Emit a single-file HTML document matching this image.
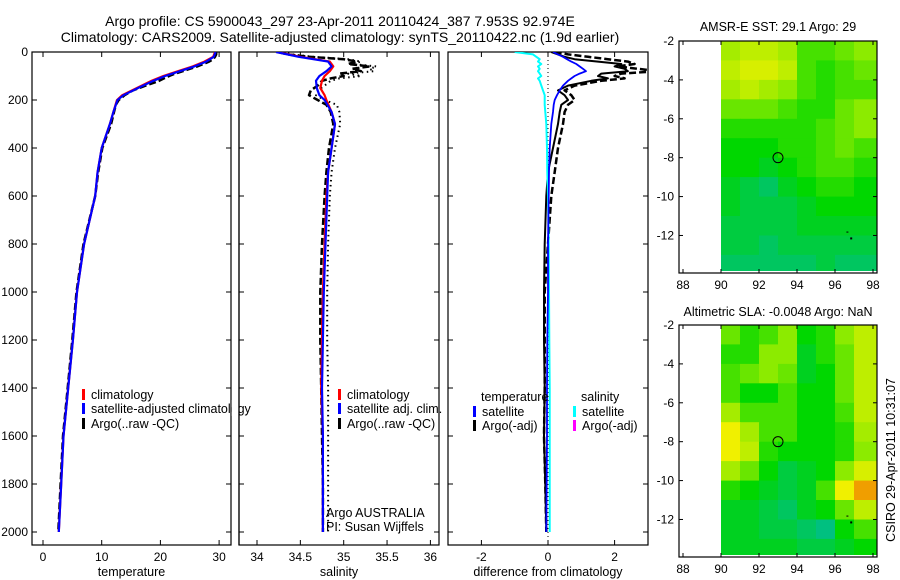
<!DOCTYPE html>
<html><head><meta charset="utf-8"><style>
html,body{margin:0;padding:0;background:#fff;}
svg{display:block;font-family:"Liberation Sans",sans-serif;}
text{fill:#000;}
</style></head><body>
<svg id="fig" width="900" height="580" viewBox="0 0 900 580">
<defs>
<clipPath id="c1"><rect x="32" y="52" width="199" height="493"/></clipPath>
<clipPath id="c2"><rect x="239" y="52" width="200" height="493"/></clipPath>
<clipPath id="c3"><rect x="448" y="52" width="200" height="493"/></clipPath>
</defs>
<text x="340" y="26" font-size="14" text-anchor="middle">Argo profile: CS 5900043_297 23-Apr-2011 20110424_387 7.953S 92.974E</text>
<text x="340" y="42" font-size="14" text-anchor="middle">Climatology: CARS2009. Satellite-adjusted climatology: synTS_20110422.nc (1.9d earlier)</text>
<text x="778" y="31" font-size="12.5" text-anchor="middle">AMSR-E SST: 29.1 Argo: 29</text>
<text x="778" y="316" font-size="12.5" text-anchor="middle">Altimetric SLA: -0.0048 Argo: NaN</text>
<text transform="translate(895,460) rotate(-90)" font-size="12.5" text-anchor="middle">CSIRO 29-Apr-2011 10:31:07</text>
<g id="layer"></g>
</svg>
<script>
// ---- data ----
const climDepth=[0,20,40,60,80,100,120,150,180,200,250,300,400,500,600,800,1000,1200,1400,1600,1800,2000];
const tempClim=[29.3,29,27.5,25.5,23,20.5,18.5,16,13.5,12.6,12,11.4,10,9.3,8.9,7,5.8,5.1,4.3,3.5,3.1,2.7];
const tempSatAdj=[29.4,29.1,27.8,25.8,23.3,20.8,18.8,16.2,13.7,12.7,12.0,11.4,10,9.3,8.9,7,5.8,5.1,4.3,3.5,3.1,2.7];
const salClim=[34.23,34.5,34.84,34.88,34.84,34.78,34.75,34.73,34.78,34.8,34.86,34.9,34.86,34.82,34.8,34.78,34.76,34.75,34.74,34.76,34.76,34.76];
const salSatAdj=[34.22,34.48,34.82,34.86,34.8,34.72,34.68,34.69,34.72,34.78,34.86,34.9,34.86,34.82,34.81,34.79,34.77,34.76,34.75,34.76,34.76,34.76];
const argoDepth=[0,10,20,30,40,50,60,70,80,90,100,110,120,140,160,180,200,220,250,300,400,500,600,800,1000,1200,1400,1600,1800,2000];
const tempArgo=[29.5,29.5,29.3,29,28.3,27.3,26.3,25,23.8,22.5,21.5,20.6,19.8,17.5,15.3,13.9,12.9,12.4,12.1,11.6,10.1,9.4,8.9,6.9,5.7,5.0,4.2,3.4,3.0,2.6];
const salArgo=[34.25,34.35,34.6,35.0,35.15,35.05,35.3,35.1,35.2,34.95,35.0,34.85,34.75,34.7,34.62,34.6,34.7,34.8,34.85,34.88,34.83,34.8,34.78,34.75,34.73,34.73,34.74,34.75,34.76,34.76];
const salArgoQC=[34.3,34.4,34.65,35.05,35.2,35.1,35.38,35.3,35.35,35.05,35.2,34.95,34.85,34.78,34.7,34.68,34.78,34.92,34.95,34.96,34.9,34.86,34.84,34.82,34.81,34.81,34.82,34.82,34.82,34.82];
const dTempSat=[0.15,0.3,0.45,0.57,0.7,0.85,0.95,1.05,1.14,0.95,0.8,0.7,0.6,0.45,0.35,0.27,0.2,0.17,0.15,0.1,0.05,0.03,0.02,0,0,-0.02,-0.03,-0.03,-0.04,-0.05];
const dTempArgo=[0.1,0.3,0.5,0.8,1.5,2.2,2.0,2.3,2.4,1.6,1.5,1.8,1.3,0.6,0.3,0.5,0.6,0.4,0.35,0.3,0.15,0,-0.05,-0.1,-0.12,-0.12,-0.1,-0.12,-0.08,-0.05];
const dTempArgoRaw=[0.2,0.6,1.2,1.8,2.4,2.6,2.1,2.7,3.3,2.2,2.0,2.3,1.6,0.8,0.5,0.7,0.8,0.6,0.5,0.45,0.3,0.2,0.1,0,-0.1,-0.1,-0.1,-0.12,-0.08,-0.05];
const dSalSat=[-1.0,-0.45,-0.35,-0.25,-0.3,-0.2,-0.3,-0.25,-0.3,-0.25,-0.2,-0.3,-0.25,-0.2,-0.15,-0.1,-0.1,-0.1,-0.08,-0.05,-0.03,-0.02,0,0.02,0.03,0.04,0.05,0.05,0.05,0.05];
const depthTicks=[0,200,400,600,800,1000,1200,1400,1600,1800,2000];
const tempTicks=[0,10,20,30];
const salTicks=[34,34.5,35,35.5,36];
const diffTicks=[-2,0,2];
const lonTicks=[88,90,92,94,96,98];
const latTicks=[-2,-4,-6,-8,-10,-12];
const mapLons=[90,91,92,93,94,95,96,97];
const mapLats=[-2,-3,-4,-5,-6,-7,-8,-9,-10,-11,-12,-13];
const sstGrid=[
[0.55,0.6,0.6,0.55,0.4,0.4,0.45,0.5],
[0.6,0.65,0.65,0.6,0.4,0.35,0.4,0.45],
[0.55,0.6,0.55,0.5,0.4,0.35,0.4,0.4],
[0.45,0.45,0.45,0.4,0.35,0.35,0.45,0.5],
[0.35,0.35,0.35,0.35,0.35,0.4,0.45,0.5],
[0.3,0.3,0.3,0.35,0.35,0.4,0.45,0.4],
[0.3,0.3,0.25,0.3,0.35,0.4,0.4,0.35],
[0.25,0.2,0.15,0.25,0.3,0.35,0.35,0.3],
[0.25,0.2,0.2,0.2,0.25,0.3,0.3,0.3],
[0.2,0.2,0.2,0.2,0.25,0.25,0.25,0.25],
[0.2,0.2,0.15,0.2,0.2,0.2,0.2,0.2],
[0.15,0.15,0.15,0.15,0.15,0.2,0.15,0.15]];
const slaGrid=[
[0.45,0.35,0.4,0.5,0.3,0.35,0.5,0.6],
[0.35,0.35,0.5,0.5,0.25,0.35,0.45,0.6],
[0.4,0.45,0.5,0.45,0.25,0.3,0.45,0.6],
[0.4,0.3,0.3,0.4,0.3,0.3,0.45,0.6],
[0.55,0.4,0.4,0.4,0.3,0.3,0.4,0.6],
[0.7,0.55,0.4,0.4,0.3,0.3,0.35,0.55],
[0.7,0.6,0.35,0.3,0.3,0.3,0.35,0.5],
[0.55,0.45,0.3,0.2,0.25,0.3,0.5,0.65],
[0.35,0.3,0.25,0.2,0.25,0.4,0.7,0.85],
[0.25,0.25,0.2,0.15,0.25,0.3,0.45,0.6],
[0.25,0.25,0.2,0.2,0.15,0.1,0.3,0.4],
[0.25,0.25,0.25,0.25,0.2,0.2,0.25,0.3]];
const argoLon=93, argoLat=-8;

// ---- helpers ----
const NS='http://www.w3.org/2000/svg';
const layer=document.getElementById('layer');
function mk(tag,attrs,parent){const e=document.createElementNS(NS,tag);for(const k in attrs)e.setAttribute(k,attrs[k]);(parent||layer).appendChild(e);return e;}
const yD=d=>52+0.24*d;
const xT=t=>43+5.87*t;
const xS=s=>257+86.7*(s-34);
const xDf=v=>548+33.3*v;

function panelFrame(x0,x1,name,ticks,xf,label,showDepth){
  const r=mk('rect',{x:x0,y:52,width:x1-x0,height:493,fill:'none',stroke:'#000','stroke-width':1.2});
  
  
  depthTicks.forEach(d=>{
    mk('line',{x1:x0,x2:x0+5,y1:yD(d),y2:yD(d),stroke:'#000'});
    mk('line',{x1:x1-5,x2:x1,y1:yD(d),y2:yD(d),stroke:'#000'});
    if(showDepth){const t=mk('text',{x:x0-4,y:yD(d)+4,'font-size':12,'text-anchor':'end'});t.textContent=d;
      
      }
  });
  ticks.forEach(v=>{
    const x=xf(v);
    mk('line',{x1:x,x2:x,y1:545,y2:540,stroke:'#000'});
    mk('line',{x1:x,x2:x,y1:52,y2:57,stroke:'#000'});
    const t=mk('text',{x:x,y:561,'font-size':12,'text-anchor':'middle'});t.textContent=v;
    
    
  });
  const l=mk('text',{x:(x0+x1)/2,y:576,'font-size':12.5,'text-anchor':'middle'});l.textContent=label;
  
  
}
function line(vals,depths,xf,clip,color,w,dash,name){
  const pts=vals.map((v,i)=>xf(v).toFixed(1)+','+yD(depths[i]).toFixed(1)).join(' ');
  const a={points:pts,fill:'none',stroke:color,'stroke-width':w,'clip-path':'url(#'+clip+')','stroke-linejoin':'round'};
  if(dash)a['stroke-dasharray']=dash;
  const p=mk('polyline',a);
  
  
}
function legend(x,y,color,label,name){
  mk('rect',{x:x,y:y-9,width:3,height:11,fill:color});
  const t=mk('text',{x:x+9,y:y+1,'font-size':12.5});t.textContent=label;
  
  
}

// Panel 1 temperature
panelFrame(32,231,'temperature-panel',tempTicks,xT,'temperature',true);
line(tempArgo,argoDepth,xT,'c1','#000',2.5,'7,3','argo-temperature-line');
line(tempClim,climDepth,xT,'c1','#f00',2.2,null,'climatology-temperature-line');
line(tempSatAdj,climDepth,xT,'c1','#00f',2.2,null,'satellite-adjusted-temperature-line');
legend(82,398,'#f00','climatology','legend-climatology');
legend(82,412,'#00f','satellite-adjusted climatology','legend-satellite-adjusted');
legend(82,427,'#000','Argo(..raw -QC)','legend-argo');
mk('rect',{x:231.6,y:400,width:7,height:16,fill:'#fff'});
mk('line',{x1:239,x2:239,y1:52,y2:545,stroke:'#000','stroke-width':1.2});

// Panel 2 salinity
panelFrame(239,439,'salinity-panel',salTicks,xS,'salinity',false);
line(salArgoQC,argoDepth,xS,'c2','#000',2,'1.5,3.5','argo-salinity-qc-line');
line(salArgo,argoDepth,xS,'c2','#000',2.5,'7,3','argo-salinity-raw-line');
line(salClim,climDepth,xS,'c2','#f00',2.2,null,'climatology-salinity-line');
line(salSatAdj,climDepth,xS,'c2','#00f',2.2,null,'satellite-adjusted-salinity-line');
legend(338,398,'#f00','climatology','legend-sal-climatology');
legend(338,412,'#00f','satellite adj. clim.','legend-sal-satellite');
legend(338,427,'#000','Argo(..raw -QC)','legend-sal-argo');
const a1=mk('text',{x:326,y:517,'font-size':12.5});a1.textContent='Argo AUSTRALIA';


const a2=mk('text',{x:326,y:531,'font-size':12.5});a2.textContent='PI: Susan Wijffels';



// Panel 3 differences
panelFrame(448,648,'difference-panel',diffTicks,xDf,'difference from climatology',false);
mk('line',{x1:xDf(0),x2:xDf(0),y1:52,y2:545,stroke:'#000','stroke-dasharray':'1,3'});
line(dTempArgoRaw,argoDepth,xDf,'c3','#000',2.5,'7,3','argo-temp-diff-raw-line');
line(dTempArgo,argoDepth,xDf,'c3','#000',2,null,'argo-temp-diff-line');
line(dSalSat,argoDepth,xDf,'c3','#0ff',2,null,'satellite-salinity-diff-line');
line(dTempSat,argoDepth,xDf,'c3','#00f',1.8,null,'satellite-temp-diff-line');
const lt=mk('text',{x:481,y:401,'font-size':12.5});lt.textContent='temperature';


const ls=mk('text',{x:581,y:401,'font-size':12.5});ls.textContent='salinity';


legend(473,415,'#00f','satellite','legend-diff-temp-satellite');
legend(473,429,'#000','Argo(-adj)','legend-diff-temp-argo');
legend(573,415,'#0ff','satellite','legend-diff-sal-satellite');
legend(573,429,'#f0f','Argo(-adj)','legend-diff-sal-argo');

// Maps
const stops=[[0.1,[0,192,128]],[0.3,[0,215,0]],[0.5,[140,235,0]],[0.7,[240,240,0]],[0.9,[240,130,0]]];
function cmap(v){
  if(v<=stops[0][0])return 'rgb('+stops[0][1]+')';
  for(let i=1;i<stops.length;i++){if(v<=stops[i][0]){const f=(v-stops[i-1][0])/(stops[i][0]-stops[i-1][0]);
    const c=stops[i-1][1].map((a,k)=>Math.round(a+(stops[i][1][k]-a)*f));return 'rgb('+c+')';}}
  return 'rgb('+stops[stops.length-1][1]+')';
}
function drawMap(top,bottom,grid,name){
  const x0=679,x1=877;
  const xL=lon=>683+19*(lon-88);
  const latScale=(bottom-top)/11.93;
  const yL=lat=>top+latScale*(-2-lat);
  grid.forEach((row,j)=>row.forEach((v,i)=>{
    const lon=mapLons[i],lat=mapLats[j];
    const xa=xL(lon),xb=i===row.length-1?xL(98.2):xL(lon+1);
    const ya=yL(lat),yb=j===grid.length-1?yL(-13.8):yL(lat-1);
    const r=mk('rect',{x:xa.toFixed(1),y:ya.toFixed(1),width:(xb-xa+0.5).toFixed(1),height:(yb-ya+0.5).toFixed(1),fill:cmap(v)});
    
    
  }));
  const f=mk('rect',{x:x0,y:top,width:x1-x0,height:bottom-top,fill:'none',stroke:'#000','stroke-width':1.2});
  
  
  lonTicks.forEach(l=>{const x=xL(l);
    mk('line',{x1:x,x2:x,y1:bottom,y2:bottom-4,stroke:'#000'});mk('line',{x1:x,x2:x,y1:top,y2:top+4,stroke:'#000'});
    const t=mk('text',{x:x,y:bottom+16,'font-size':12,'text-anchor':'middle'});t.textContent=l;
    
    });
  latTicks.forEach(l=>{const y=yL(l);
    mk('line',{x1:x0,x2:x0+4,y1:y,y2:y,stroke:'#000'});mk('line',{x1:x1-4,x2:x1,y1:y,y2:y,stroke:'#000'});
    const t=mk('text',{x:x0-5,y:y+4,'font-size':12,'text-anchor':'end'});t.textContent=l;
    
    });
  const c=mk('circle',{cx:xL(argoLon),cy:yL(argoLat),r:5,fill:'none',stroke:'#000'});
  
  
  mk('rect',{x:xL(96.8),y:yL(-12.1),width:2,height:2,fill:'#000'});
  mk('rect',{x:xL(96.6),y:yL(-11.8),width:2,height:1,fill:'#000'});
}
drawMap(41,273,sstGrid,'sst-map');
drawMap(325,557,slaGrid,'sla-map');
</script>
</body></html>
